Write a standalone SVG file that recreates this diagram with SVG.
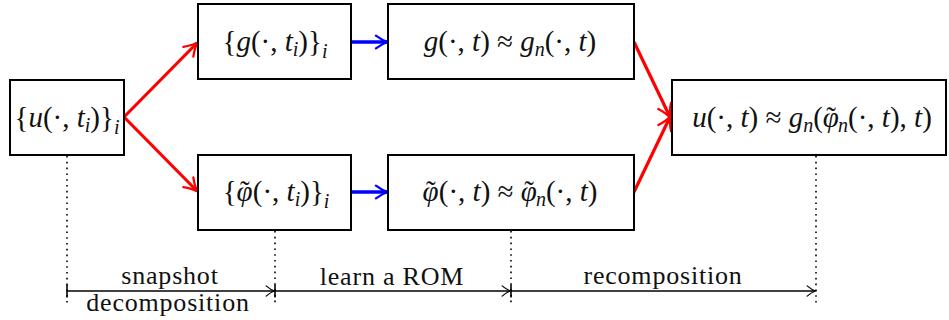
<svg xmlns="http://www.w3.org/2000/svg" width="949" height="320" viewBox="0 0 949 320">
<style>
.box{fill:#fff;stroke:#000;stroke-width:2}
.m{font-size:29px;fill:#111}
.it{font-style:italic}
.sb{font-size:20px;font-style:italic}
.red{stroke:#f00;stroke-width:3.2;fill:none}
.blue{stroke:#00f;stroke-width:3.6;fill:none}
.dot{stroke:#000;stroke-width:1.6;stroke-dasharray:1.6 4.2;fill:none}
.ax{stroke:#000;stroke-width:1.6;fill:none}
.lbl{font-size:26px;letter-spacing:0.8px;fill:#111;text-anchor:middle}
</style>
<defs>
<marker id="ar" viewBox="0 0 10 10" refX="8" refY="5" markerWidth="5.5" markerHeight="5.5" orient="auto" markerUnits="strokeWidth">
<path d="M1,1 Q5,4 8.5,5 Q5,6 1,9" fill="none" stroke="#f00" stroke-width="1.3" stroke-linecap="round"/>
</marker>
<marker id="ab" viewBox="0 0 10 10" refX="8" refY="5" markerWidth="4.4" markerHeight="4.4" orient="auto" markerUnits="strokeWidth">
<path d="M1,1 Q5,4 8.5,5 Q5,6 1,9" fill="none" stroke="#00f" stroke-width="1.4" stroke-linecap="round"/>
</marker>
<marker id="ak" viewBox="0 0 10 10" refX="8.5" refY="5" markerWidth="8" markerHeight="8" orient="auto" markerUnits="strokeWidth">
<path d="M2,1 Q5.5,4 8.5,5 Q5.5,6 2,9" fill="none" stroke="#000" stroke-width="1" stroke-linecap="round"/>
</marker>
<marker id="bar" viewBox="0 0 10 10" refX="5" refY="5" markerWidth="9" markerHeight="9" orient="auto" markerUnits="strokeWidth">
<path d="M5,0.5 V9.5" stroke="#000" stroke-width="1.1"/>
</marker>
</defs>

<g id="connectors">
<path class="dot" d="M67,156 V306"/>
<path class="dot" d="M275,231 V306"/>
<path class="dot" d="M511,231 V306"/>
<path class="dot" d="M816,156 V306"/>
<path class="red" d="M124,117 L197,43" marker-end="url(#ar)"/>
<path class="red" d="M124,117 L197,191" marker-end="url(#ar)"/>
<path class="blue" d="M351,42 L387,42" marker-end="url(#ab)"/>
<path class="blue" d="M351,192 L387,192" marker-end="url(#ab)"/>
<path class="red" d="M634,42 L670,117" marker-end="url(#ar)"/>
<path class="red" d="M634,192 L670,117" marker-end="url(#ar)"/>
<path class="ax" d="M67,291 H274.5" marker-start="url(#bar)" marker-end="url(#ak)"/>
<path class="ax" d="M275,291 H510.5" marker-start="url(#bar)" marker-end="url(#ak)"/>
<path class="ax" d="M511,291 H815.5" marker-start="url(#bar)" marker-end="url(#ak)"/>
</g>

<g font-family="Liberation Serif, serif">
<g id="node-u">
<rect class="box" x="10" y="80" width="114" height="75"/>
<text class="m" x="67" y="127" text-anchor="middle">{<tspan class="it">u</tspan>(·, <tspan class="it">t</tspan><tspan class="sb" dy="5">i</tspan><tspan dy="-5">)}</tspan><tspan class="sb" dy="7">i</tspan></text>
</g>

<g id="node-g-snap">
<rect class="box" x="198" y="4" width="153" height="75"/>
<text class="m" x="275" y="51" text-anchor="middle">{<tspan class="it">g</tspan>(·, <tspan class="it">t</tspan><tspan class="sb" dy="5">i</tspan><tspan dy="-5">)}</tspan><tspan class="sb" dy="7">i</tspan></text>
</g>

<g id="node-phi-snap">
<rect class="box" x="198" y="155" width="153" height="75"/>
<text class="m" x="276" y="201" text-anchor="middle">{<tspan class="it">φ</tspan><tspan dx="-12.5">˜</tspan><tspan dx="3">(·, </tspan><tspan class="it">t</tspan><tspan class="sb" dy="5">i</tspan><tspan dy="-5">)}</tspan><tspan class="sb" dy="7">i</tspan></text>
</g>

<g id="node-g-rom">
<rect class="box" x="388" y="4" width="246" height="75"/>
<text class="m" x="510" y="51" text-anchor="middle"><tspan class="it">g</tspan>(·, <tspan class="it">t</tspan>) ≈ <tspan class="it">g</tspan><tspan class="sb" dy="5">n</tspan><tspan dy="-5">(·, </tspan><tspan class="it">t</tspan>)</text>
</g>

<g id="node-phi-rom">
<rect class="box" x="388" y="155" width="246" height="75"/>
<text class="m" x="510" y="201" text-anchor="middle"><tspan class="it">φ</tspan><tspan dx="-12.5">˜</tspan><tspan dx="3">(·, </tspan><tspan class="it">t</tspan>) ≈ <tspan class="it">φ</tspan><tspan dx="-12.5">˜</tspan><tspan class="sb" dx="2" dy="5">n</tspan><tspan dy="-5">(·, </tspan><tspan class="it">t</tspan>)</text>
</g>

<g id="node-u-approx">
<rect class="box" x="672" y="80" width="274" height="75"/>
<text class="m" x="812" y="127" text-anchor="middle"><tspan class="it">u</tspan>(·, <tspan class="it">t</tspan>) ≈ <tspan class="it">g</tspan><tspan class="sb" dy="5">n</tspan><tspan dy="-5">(</tspan><tspan class="it">φ</tspan><tspan dx="-12.5">˜</tspan><tspan class="sb" dx="2" dy="5">n</tspan><tspan dy="-5">(·, </tspan><tspan class="it">t</tspan>), <tspan class="it">t</tspan>)</text>
</g>

<g id="labels">
<text class="lbl" x="170" y="284">snapshot</text>
<text class="lbl" x="168" y="311">decomposition</text>
<text class="lbl" x="392" y="285">learn a ROM</text>
<text class="lbl" x="663" y="284">recomposition</text>
</g>
</g>
</svg>
